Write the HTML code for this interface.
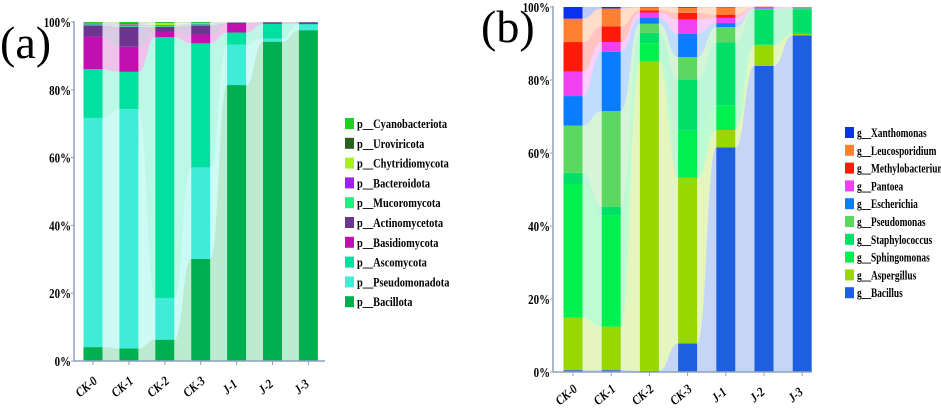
<!DOCTYPE html>
<html><head><meta charset="utf-8"><style>
html,body{margin:0;padding:0;background:#fff;width:941px;height:410px;overflow:hidden}
svg{display:block;font-family:"Liberation Serif",serif}
</style></head><body>
<svg id="c" width="941" height="410"></svg>
<script>
const samples=["CK-0","CK-1","CK-2","CK-3","J-1","J-2","J-3"];
const yTicks=["0%","20%","40%","60%","80%","100%"];
const phylaA=["p__Bacillota","p__Pseudomonadota","p__Ascomycota","p__Basidiomycota","p__Actinomycetota","p__Mucoromycota","p__Bacteroidota","p__Chytridiomycota","p__Uroviricota","p__Cyanobacteriota"];
const colorsA=["#00b050","#40ecd8","#00e0a0","#c010b0","#6b3590","#20f080","#a020f0","#a8f020","#2a6020","#20d020"];
const valsA=[
[4.1,67.6,14.4,9.6,3.3,0.3,0.2,0.1,0.2,0.2],
[3.7,70.6,11.0,7.4,5.9,0.3,0.4,0.2,0.2,0.3],
[6.3,12.3,76.9,1.7,1.4,0.3,0.2,0.6,0.1,0.2],
[30.1,27.0,36.6,2.6,2.7,0.3,0.2,0.2,0.1,0.2],
[81.4,11.9,3.6,2.5,0.3,0.1,0.1,0.05,0.02,0.03],
[94.2,0.9,4.3,0.1,0.4,0.05,0.02,0.01,0.01,0.01],
[97.6,1.6,0.2,0.3,0.2,0.05,0.02,0.01,0.01,0.01]];
const generaB=["g__Bacillus","g__Aspergillus","g__Sphingomonas","g__Staphylococcus","g__Pseudomonas","g__Escherichia","g__Pantoea","g__Methylobacterium","g__Leucosporidium","g__Xanthomonas"];
const colorsB=["#1e5ee0","#98d800","#00f050","#00e068","#5cd860","#0a7cff","#f040f0","#ff1a0a","#ff8030","#0a30f0"];
const valsB=[
[0.5,14.4,36.6,3.1,12.9,8.1,6.7,8.1,6.4,3.2],
[0.5,11.9,30.6,2.3,26.2,16.2,2.7,4.3,4.9,0.4],
[0.3,84.8,5.0,2.8,2.5,1.7,1.4,0.6,0.8,0.1],
[7.8,45.4,12.9,14.1,6.1,6.4,3.8,1.9,1.4,0.2],
[61.5,4.8,6.8,17.2,4.2,1.1,1.4,0.9,2.0,0.1],
[83.9,5.6,0.3,9.5,0.2,0.1,0.3,0.1,0.1,0.0],
[92.2,0.4,0.3,6.5,0.2,0.1,0.1,0.1,0.1,0.0]];

const NS="http://www.w3.org/2000/svg";
const svg=document.getElementById('c');
function mk(t,a,p){const e=document.createElementNS(NS,t);for(const k in a)e.setAttribute(k,a[k]);(p||svg).appendChild(e);return e;}

function chart(cfg){
  const g=mk('g',{});
  
  
  const {x0,x1,y0,y100,cx0,step,bw,vals,colors,names}=cfg;
  const yS=v=>y0-(y0-y100)*v/100;
  const xS=i=>cx0+step*i;
  const cum=vals.map(r=>{let s=0;return r.map(v=>{const b=s;s+=v;return [b,s];});});
  for(let i=0;i<samples.length-1;i++){
    for(let k=0;k<names.length;k++){
      const xa=xS(i)+bw/2, xb=xS(i+1)-bw/2, xm=(xa+xb)/2;
      const ta=yS(cum[i][k][1]),ba=yS(cum[i][k][0]),tb=yS(cum[i+1][k][1]),bb=yS(cum[i+1][k][0]);
      const p=mk('path',{d:`M${xa},${ta} C${xm},${ta} ${xm},${tb} ${xb},${tb} L${xb},${bb} C${xm},${bb} ${xm},${ba} ${xa},${ba} Z`,fill:colors[k],'fill-opacity':0.26},g);
      
      
    }
  }
  for(let i=0;i<samples.length;i++){
    for(let k=0;k<names.length;k++){
      const t=yS(cum[i][k][1]),b=yS(cum[i][k][0]);
      const r=mk('rect',{x:xS(i)-bw/2,y:t,width:bw,height:Math.max(0,b-t),fill:colors[k]},g);
      
      
    }
  }
  const ya=mk('line',{x1:x0,y1:y100-1,x2:x0,y2:y0,stroke:'#8ea4bc','stroke-width':1.5},g);
  
  
  const xa=mk('line',{x1:x0,y1:y0,x2:x1,y2:y0,stroke:'#8ea4bc','stroke-width':1.5},g);
  
  
  yTicks.forEach((t,j)=>{
    const y=yS(j*20);
    mk('line',{x1:x0-3,y1:y,x2:x0,y2:y,stroke:'#8ea4bc'},g);
    const tx=mk('text',{x:x0-3,y:y+5,'text-anchor':'end','font-size':14,'font-weight':'bold',transform:`translate(${x0-3},0) scale(0.78,1) translate(${-(x0-3)},0)`},g);
    tx.textContent=t;
    
    
  });
  samples.forEach((s,i)=>{
    const x=xS(i);
    mk('line',{x1:x,y1:y0,x2:x,y2:y0+4,stroke:'#8ea4bc'},g);
    const tx=mk('text',{x:0,y:0,'text-anchor':'middle','font-size':13,'font-weight':'bold','font-style':'italic',transform:`translate(${x-4},${cfg.ly0}) rotate(-40) scale(0.85,1)`},g);
    tx.textContent=s;
    
    
  });
  for(let k=names.length-1,j=0;k>=0;k--,j++){
    const y=cfg.ly+cfg.lstep*j;
    const lg=mk('g',{},g);
    
    
    mk('rect',{x:cfg.lx,y:y-6,width:9,height:11,fill:colors[k]},lg);
    const tx=mk('text',{x:cfg.lx+12,y:y+4,'font-size':13,'font-weight':'bold',transform:`translate(${cfg.lx+12},0) scale(${cfg.ls},1) translate(${-(cfg.lx+12)},0)`},lg);
    tx.textContent=names[k];
  }
  const pl=mk('text',{x:cfg.px,y:cfg.py,'font-size':46},g);
  pl.textContent=cfg.panel;
  
  
}
chart({name:'chart-a-phylum',x0:74,x1:325,y0:361,y100:22,cx0:93,step:35.9,bw:19,vals:valsA,colors:colorsA,names:phylaA,lx:345,ly:124,lstep:19.8,ls:0.8,ly0:390,panel:'(a)',px:0,py:58});
chart({name:'chart-b-genus',x0:553,x1:812,y0:372,y100:7,cx0:573,step:38.2,bw:19,vals:valsB,colors:colorsB,names:generaB,lx:845,ly:133,lstep:17.8,ls:0.72,ly0:398,panel:'(b)',px:481,py:42});
</script>
</body></html>
